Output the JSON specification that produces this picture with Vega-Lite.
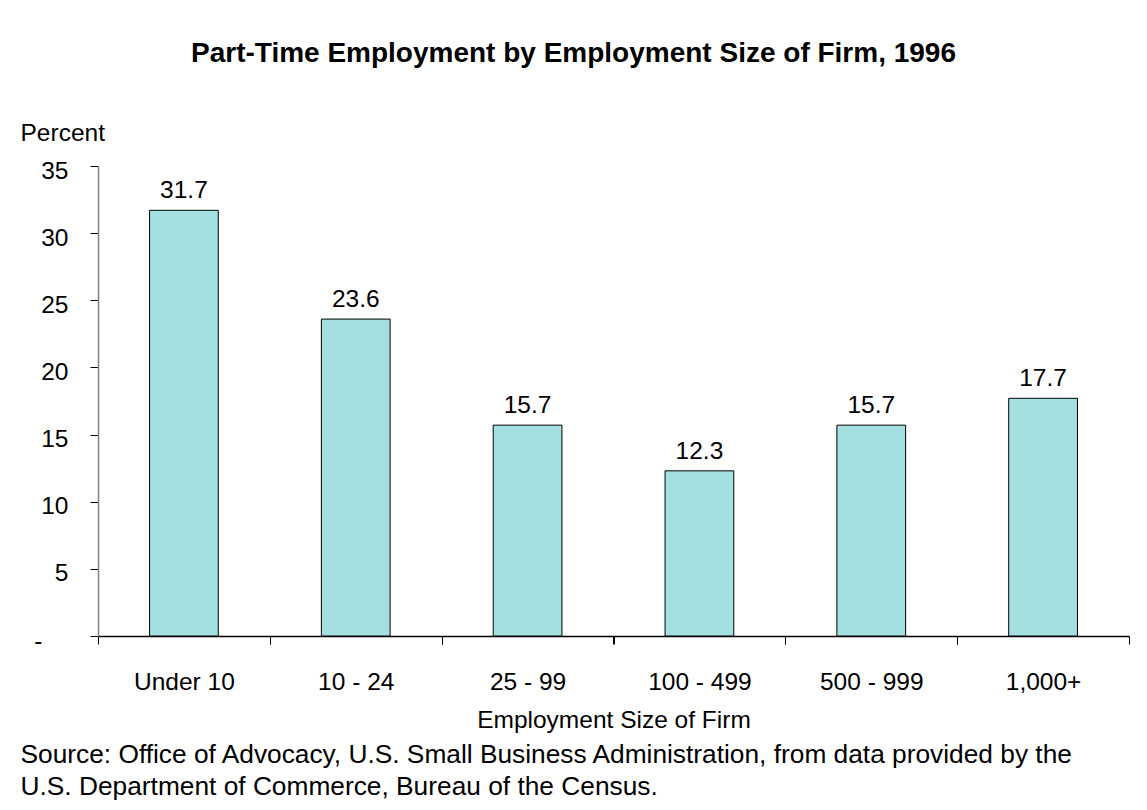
{
  "$schema": "https://vega.github.io/schema/vega-lite/v6.json",
  "autosize": "none",
  "width": 1031,
  "height": 470,
  "padding": {"left": 98, "top": 166, "right": 18, "bottom": 174},
  "background": "white",
  "config": {
    "font": "Liberation Sans",
    "view": {"stroke": null},
    "axis": {"grid": false, "labelFont": "Liberation Sans", "titleFont": "Liberation Sans", "labelColor": "#000", "titleColor": "#000", "titleFontWeight": "normal"}
  },
  "title": {
    "text": "Part-Time Employment by Employment Size of Firm, 1996",
    "font": "Liberation Sans",
    "fontSize": 28,
    "fontWeight": "bold",
    "color": "#000",
    "anchor": "middle",
    "baseline": "alphabetic",
    "offset": 30,
    "dx": -40
  },
  "data": {
    "values": [
      {"size": "Under 10", "pct": 31.7},
      {"size": "10 - 24", "pct": 23.6},
      {"size": "25 - 99", "pct": 15.7},
      {"size": "100 - 499", "pct": 12.3},
      {"size": "500 - 999", "pct": 15.7},
      {"size": "1,000+", "pct": 17.7}
    ]
  },
  "resolve": {"axis": {"x": "independent"}},
  "layer": [
    {
      "mark": {"type": "bar", "fill": "#A4E0E0", "stroke": "#000", "strokeWidth": 1},
      "encoding": {
        "x": {
          "field": "size",
          "type": "nominal",
          "sort": null,
          "scale": {"paddingInner": 0.6, "paddingOuter": 0.3},
          "axis": {
            "orient": "bottom",
            "title": "Employment Size of Firm",
            "titleFontSize": 24.5,
            "titleBaseline": "alphabetic",
            "titleY": 91,
            "labelAngle": 0,
            "labelFontSize": 24.5,
            "labelBaseline": "top",
            "labelPadding": 26,
            "ticks": true,
            "bandPosition": 0,
            "tickOffset": -51.5,
            "labelOffset": 51.5,
            "tickSize": 8,
            "tickWidth": 1,
            "tickColor": "#000",
            "domainColor": "#000",
            "domainWidth": 1.5
          }
        },
        "y": {
          "field": "pct",
          "type": "quantitative",
          "scale": {"domain": [0, 35], "nice": false},
          "axis": {
            "values": [0, 5, 10, 15, 20, 25, 30, 35],
            "title": "Percent",
            "titleFontSize": 24.5,
            "titleAngle": 0,
            "titleAlign": "left",
            "titleBaseline": "alphabetic",
            "titleX": -78,
            "titleY": -26,
            "labelFontSize": 24.5,
            "labelPadding": {"condition": {"test": "datum.value === 0", "value": 48}, "value": 22},
            "labelOffset": 5,
            "labelExpr": "datum.value === 0 ? '-' : datum.label",
            "tickSize": 8,
            "tickColor": "#000",
            "domainColor": "#808080",
            "domainWidth": 1.5
          }
        }
      }
    },
    {
      "mark": {"type": "text", "baseline": "alphabetic", "dy": -12, "fontSize": 24.5, "font": "Liberation Sans", "color": "#000"},
      "encoding": {
        "x": {
          "field": "size",
          "type": "nominal",
          "sort": null,
          "axis": {
            "orient": "bottom",
            "domain": false,
            "ticks": true,
            "bandPosition": 1,
            "tickOffset": 51.5,
            "tickSize": 8,
            "tickWidth": 1,
            "tickColor": "#000",
            "labels": false,
            "title": ["Source: Office of Advocacy, U.S. Small Business Administration, from data provided by the", "U.S. Department of Commerce, Bureau of the Census."],
            "titleFontSize": 26.3,
            "titleAnchor": "start",
            "titleAlign": "left",
            "titleBaseline": "alphabetic",
            "titleLineHeight": 32,
            "titleX": -78,
            "titleY": 126
          }
        },
        "y": {"field": "pct", "type": "quantitative"},
        "text": {"field": "pct", "type": "quantitative", "format": ".1f"}
      }
    }
  ]
}
